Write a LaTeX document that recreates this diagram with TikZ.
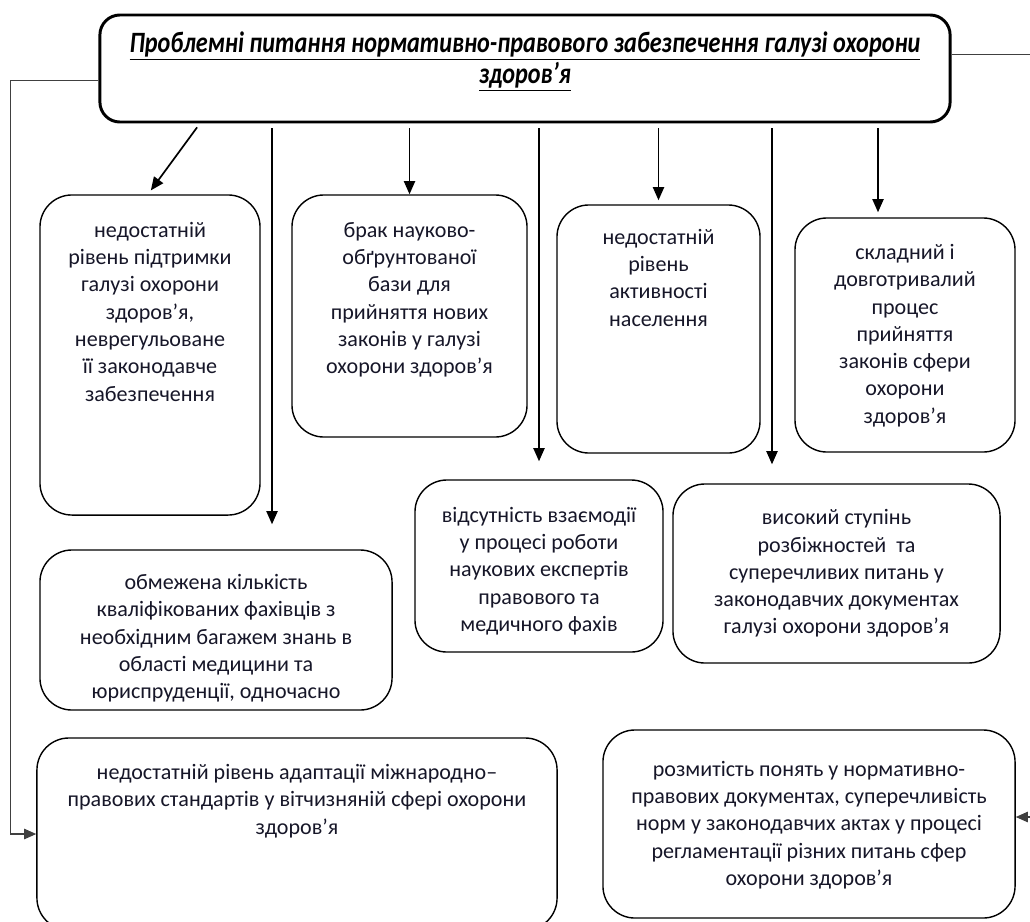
\documentclass[tikz,border=0pt]{standalone}
\usepackage{fontspec}
\setmainfont{Carlito}
\newfontfamily\titlefont[FakeStretch=0.82]{Carlito}
\usetikzlibrary{arrows.meta}
\usetikzlibrary{positioning}
\definecolor{textdark}{RGB}{22,22,40}
\newcommand{\boxbody}[4]{\parbox[c][#2][t]{#1}{\centering\vspace*{#3}#4}}

\begin{document}
\begin{tikzpicture}[
    x=0.025cm, y=-0.025cm,
    every node/.style={draw, rectangle, rounded corners=0.8cm, line width=1pt, inner sep=0pt, text=textdark, font=\fontsize{15.7}{19.4}\selectfont},
    arr/.style={-{Triangle[length=0.33cm,width=0.28cm]}, line width=1.2pt},
    link/.style={-{Triangle[length=0.3cm,width=0.26cm]}, line width=0.8pt, draw=black!75}
]
    \useasboundingbox (0,0) rectangle (1030,921);

    % Title box
    \node (title) [rounded corners=0.5cm, line width=2.1pt, text=black, font=\titlefont\bfseries\itshape\fontsize{21}{21.8}\selectfont] at (525,68.5)
        {\boxbody{21.25cm}{2.675cm}{0.42cm}{\underline{Проблемні питання нормативно-правового забезпечення галузі охорони}\\ \underline{здоров’я}}};

    % Upper row
    \node (prob1) at (150,355) {\boxbody{5.5cm}{8cm}{0.68cm}{недостатній\\ рівень підтримки\\ галузі охорони\\ здоров’я,\\ неврегульоване\\ її законодавче\\ забезпечення}};
    \node (prob2) at (409.5,316) {\boxbody{5.875cm}{6.05cm}{0.68cm}{брак науково-\\ обґрунтованої\\ бази для\\ прийняття нових\\ законів у галузі\\ охорони здоров’я}};
    \node (prob3) at (658.5,329) {\boxbody{5.075cm}{6.2cm}{0.6cm}{недостатній\\ рівень\\ активності\\ населення}};
    \node (prob4) at (905,335) {\boxbody{5.5cm}{5.85cm}{0.66cm}{складний і\\ довготривалий\\ процес\\ прийняття\\ законів сфери\\ охорони\\ здоров’я}};

    % Middle row
    \node (prob5) at (539,566) {\boxbody{6.2cm}{4.3cm}{0.68cm}{відсутність взаємодії\\ у процесі роботи\\ наукових експертів\\ правового та\\ медичного фахів}};
    \node (prob6) at (836.5,573.5) {\boxbody{8.175cm}{4.475cm}{0.64cm}{високий ступінь\\ розбіжностей\ \ та\\ суперечливих питань у\\ законодавчих документах\\ галузі охорони здоров’я}};
    \node (prob7) at (216,630) {\boxbody{8.8cm}{4cm}{0.61cm}{обмежена кількість\\ кваліфікованих фахівців з\\ необхідним багажем знань в\\ області медицини та\\ юриспруденції, одночасно}};

    % Bottom row
    \node (prob8) at (297,834) {\boxbody{13cm}{4.8cm}{0.66cm}{недостатній рівень адаптації міжнародно–\\ правових стандартів у вітчизняній сфері охорони\\ здоров’я}};
    \node (prob9) at (809,824) {\boxbody{10.3cm}{4.7cm}{0.78cm}{розмитість понять у нормативно-\\ правових документах, суперечливість\\ норм у законодавчих актах у процесі\\ регламентації різних питань сфер\\ охорони здоров’я}};

    % Arrow ends that are off the box centres
    \coordinate (out1) at ([xshift=-8.125cm]title.south);
    \coordinate (in1) at ([xshift=-0.05cm]prob1.north);
    \coordinate (in7) at ([xshift=1.4cm]prob7.north);
    \coordinate (in6) at ([xshift=-1.6125cm]prob6.north);
    \coordinate (in4) at ([xshift=-0.675cm]prob4.north);

    % Arrows from the title
    \draw[arr, shorten <=0.12cm, shorten >=0.12cm] (out1) -- (in1);
    \draw[arr, shorten <=0.12cm, shorten >=0.625cm] (title.south -| in7) -- (in7);
    \draw[arr, shorten <=0.12cm] (title.south -| prob2.north) -- (prob2.north);
    \draw[arr, shorten <=0.12cm, shorten >=0.45cm] (title.south -| prob5.north) -- (prob5.north);
    \draw[arr, shorten <=0.12cm, shorten >=0.1cm] (title.south -| prob3.north) -- (prob3.north);
    \draw[arr, shorten <=0.12cm, shorten >=0.475cm] (title.south -| in6) -- (in6);
    \draw[arr, shorten <=0.12cm, shorten >=0.125cm] (title.south -| in4) -- (in4);

    % Side links
    \draw[link] ([yshift=-0.31cm]title.west) -- ++(-2.2cm,0) |- (prob8.west);
    \draw[link] ([yshift=0.34cm]title.east) -- ++(2.5cm,0) |- ([yshift=0.175cm]prob9.east);

\end{tikzpicture}
\end{document}
